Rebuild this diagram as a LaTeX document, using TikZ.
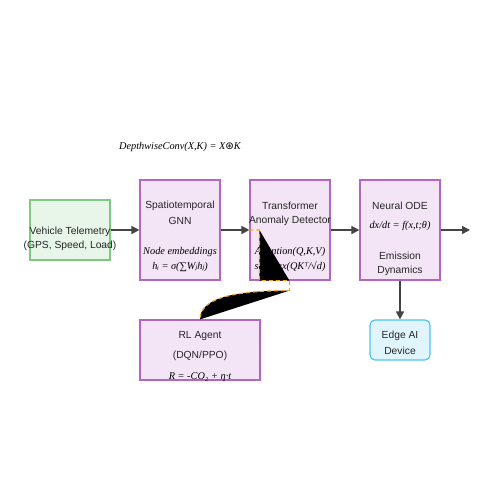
\documentclass[tikz,border=0pt]{standalone}
\usepackage{fontspec}
\setmainfont{Liberation Sans}
\newfontfamily\formfont{Liberation Serif}
\newfontfamily\symfont{DejaVu Sans}
\usetikzlibrary{arrows.meta}
\definecolor{procfill}{HTML}{F3E5F5}
\definecolor{procline}{HTML}{B266C4}
\definecolor{inputfill}{HTML}{E8F5E9}
\definecolor{inputline}{HTML}{81C784}
\definecolor{devicefill}{HTML}{E1F5FE}
\definecolor{deviceline}{HTML}{4FC3F7}
\definecolor{flowgray}{HTML}{444444}
\definecolor{loopline}{HTML}{F5A623}
\tikzset{
	procbox/.style={draw=procline, fill=procfill, line width=1.2pt, minimum width=80pt, minimum height=100pt, inner sep=0pt},
	inputbox/.style={draw=inputline, fill=inputfill, line width=1.2pt, minimum width=80pt, minimum height=60pt, inner sep=0pt},
	devicebox/.style={draw=deviceline, fill=devicefill, line width=1.2pt, rounded corners=5pt, minimum width=60pt, minimum height=40pt, inner sep=0pt},
	txt/.style={inner sep=0pt, text=black!85, font=\fontsize{10.3}{12}\selectfont},
	formula/.style={inner sep=0pt, font=\fontsize{10.3}{12}\selectfont\formfont\itshape},
	flow/.style={draw=flowgray, line width=1.5pt, -{Triangle[length=8pt,width=8pt]}},
	loop/.style={draw=loopline, line width=1.2pt, dash pattern=on 4pt off 3pt}
}
\begin{document}
\begin{tikzpicture}[x=1pt,y=-1pt]
	\useasboundingbox (0,0) rectangle (500,500);
	\node[inputbox] (telemetry) at (70,230) {};
	\node[procbox] (gnn) at (180,230) {};
	\node[procbox] (trans) at (290,230) {};
	\node[procbox] (ode) at (400,230) {};
	\node[procbox, minimum width=120pt, minimum height=60pt] (rl) at (200,350) {};
	\node[devicebox] (edge) at (400,340) {};
	\coordinate (out) at (470,230);
	\draw[flow] (telemetry) -- (gnn);
	\draw[flow] (gnn) -- (trans);
	\draw[flow] (trans) -- (ode);
	\draw[flow] (ode) -- (out);
	\draw[flow] (ode) -- (edge);
	\node[formula] (conv) at (180,147) {DepthwiseConv(X,K) = X{\symfont\upshape ⊛}K};
	\node[txt] at (70,232) {Vehicle Telemetry};
	\node[txt] at (70,246) {(GPS, Speed, Load)};
	\node[txt] at (180,206) {Spatiotemporal};
	\node[txt] at (180,221) {GNN};
	\node[formula] at (180,252) {Node embeddings};
	\node[formula] at (180,267) {hᵢ = σ(∑W{\symfont ⱼ}h{\symfont ⱼ})};
	\node[txt] at (290,206) {Transformer};
	\node[txt] at (290,221) {Anomaly Detector};
	\node[formula] at (290,252) {Attention(Q,K,V)};
	\node[formula] at (290,267) {softmax(QKᵀ/√d)};
	\node[txt] at (400,206) {Neural ODE};
	\node[formula] at (400,226) {dx/dt = f(x,t;θ)};
	\node[txt] at (400,256) {Emission};
	\node[txt] at (400,271) {Dynamics};
	\node[txt] at (400,336) {Edge AI};
	\node[txt] at (400,351) {Device};
	\node[txt] at (200,336) {RL Agent};
	\node[txt] at (200,356) {(DQN/PPO)};
	\node[formula] at (200,377) {R = -CO₂ + η·t};
	\coordinate (k1) at ([xshift=10pt]trans.west);
	\coordinate (k2) at ([xshift=10pt]trans.south west);
	\coordinate (k3) at ([xshift=40pt]trans.south west);
	\coordinate (k4) at ([xshift=40pt,yshift=-10pt]trans.south west);
	\fill (k1) -- (k2) -- (k3) -- cycle;
	\fill (k4) .. controls ++(-60,0) and ([yshift=20pt]rl.north) .. (rl.north) -- cycle;
	\draw[loop] (trans.west) -- (k1) -- (k2) -- (k3) -- (k4)
		.. controls ++(-60,0) and ([yshift=20pt]rl.north) .. (rl.north);
\end{tikzpicture}
\end{document}
